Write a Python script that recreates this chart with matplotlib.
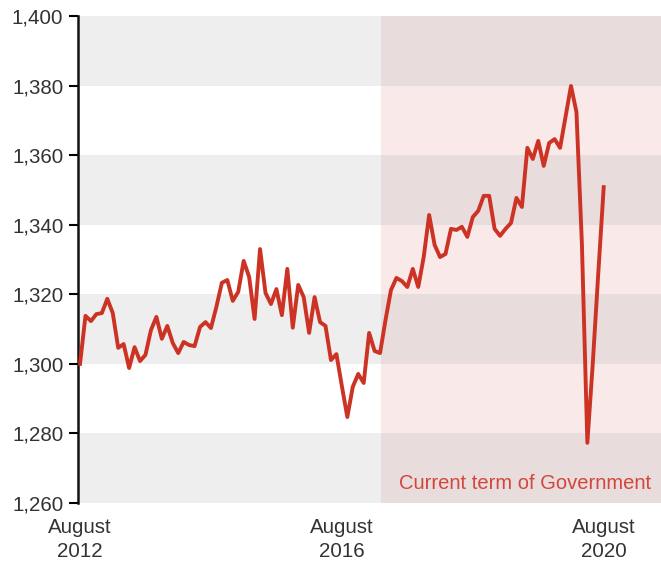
import matplotlib.pyplot as plt

# Monthly values, August 2012 to August 2020 (thousands)
values = [
    1300.0, 1313.8, 1312.3, 1314.3, 1314.6, 1318.7, 1314.6, 1304.6, 1305.7, 1298.8,
    1304.8, 1300.8, 1302.6, 1309.7, 1313.5, 1307.2, 1310.9, 1306.0, 1303.1, 1306.3,
    1305.4, 1305.1, 1310.6, 1312.0, 1310.3, 1316.4, 1323.3, 1324.1, 1318.1, 1320.7,
    1329.6, 1325.0, 1312.9, 1333.0, 1320.4, 1317.2, 1321.5, 1314.0, 1327.3, 1310.4,
    1322.7, 1319.2, 1308.9, 1319.2, 1312.0, 1310.9, 1301.1, 1302.8, 1293.6, 1284.7,
    1293.4, 1297.1, 1294.5, 1308.9, 1303.7, 1303.1, 1312.6, 1321.2, 1324.7, 1323.8,
    1322.1, 1327.3, 1322.1, 1330.7, 1342.8, 1334.2, 1330.7, 1331.6, 1338.8, 1338.5,
    1339.4, 1336.5, 1342.2, 1344.0, 1348.3, 1348.3, 1338.8, 1336.8, 1338.8, 1340.5,
    1347.7, 1345.1, 1362.1, 1358.9, 1364.1, 1356.9, 1363.5, 1364.6, 1362.1, 1371.0,
    1379.9, 1372.4, 1334.5, 1277.3, 1300.3, 1326.0, 1350.8,
]
tick_pos = [0, 48, 96]
tick_labels = ["August\n2012", "August\n2016", "August\n2020"]
y_ticks = [1260, 1280, 1300, 1320, 1340, 1360, 1380, 1400]
term_start = 55.2
x_max = 106.5

fig = plt.figure(figsize=(6.61, 5.65), dpi=100)
ax = fig.add_axes([78 / 661, 62 / 565, 583 / 661, 487 / 565])

# horizontal bands, grey/white, pink tint in the current term
for i in range(len(y_ticks) - 1):
    lo, hi = y_ticks[i], y_ticks[i + 1]
    grey = i % 2 == 0
    ax.fill_between([0, term_start], lo, hi, color="#eeeeee" if grey else "white", lw=0, zorder=0)
    ax.fill_between([term_start, x_max], lo, hi, color="#e8dcdc" if grey else "#f9e9e9", lw=0, zorder=0)

ax.plot(range(len(values)), values, color="#cc3325", lw=2.8, zorder=3)

ax.text(104.6, 1265.5, "Current term of Government", color="#d2473b", fontsize=14.5,
        ha="right", va="center", family="Liberation Sans")

ax.set_xlim(-0.37, x_max)
ax.set_ylim(1260, 1400)
ax.set_yticks(y_ticks)
ax.set_yticklabels([f"{v:,}" for v in y_ticks])
ax.set_xticks(tick_pos)
ax.set_xticklabels(tick_labels, linespacing=1.3)

for s in ["top", "right", "bottom"]:
    ax.spines[s].set_visible(False)
ax.spines["left"].set_linewidth(1.8)
ax.spines["left"].set_color("#111111")
ax.tick_params(axis="y", length=6.5, width=1.5, labelsize=14.8, labelcolor="#333333", pad=4)
ax.tick_params(axis="x", length=0, labelsize=14.8, labelcolor="#333333", pad=11)
for lab in ax.get_xticklabels() + ax.get_yticklabels():
    lab.set_family("Liberation Sans")

fig.savefig("out.png", dpi=100)
